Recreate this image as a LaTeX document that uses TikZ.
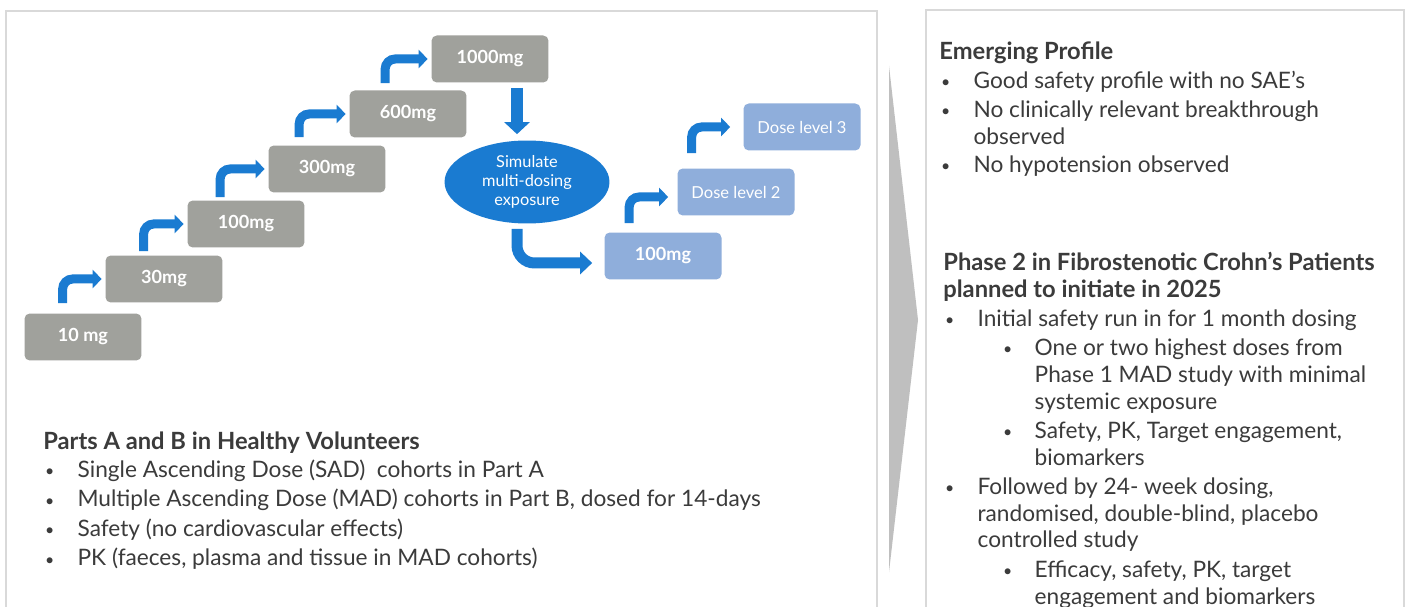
\documentclass[tikz,border=0pt]{standalone}
\usepackage{fontspec}
\setmainfont{Lato}
\usepackage{tikz}
\usetikzlibrary{
    calc,
    positioning,
    shapes.geometric,
    arrows.meta
}
\definecolor{dosegray}{HTML}{A0A19C}
\definecolor{arrowblue}{HTML}{1A7BD1}
\definecolor{doseblue}{HTML}{8FAEDB}
\definecolor{panelline}{HTML}{D9D9D9}
\definecolor{wedgegray}{HTML}{BFBFBF}
\definecolor{textgray}{HTML}{3B3B3B}
\newcommand{\Dot}{\raisebox{0.5pt}{\scalebox{0.7}{\textbullet}}}
\newcommand{\BulA}{\makebox[19.5pt][l]{\hspace{1pt}\Dot}}
\newcommand{\ContA}{\makebox[19.5pt]{}}
\newcommand{\BulB}{\makebox[33pt]{}\makebox[19pt][l]{\hspace{1pt}\Dot}}
\newcommand{\ContB}{\makebox[52pt]{}}
\newcommand{\TitleFont}{\bfseries\fontsize{13.5}{15.3}\selectfont}
\tikzset{
  dosebox/.style={rounded corners=3pt, fill=dosegray, text=white,
    minimum width=2.34cm, minimum height=0.94cm, inner sep=0pt,
    font=\bfseries\fontsize{10.3}{12}\selectfont},
  levelbox/.style={dosebox, fill=doseblue},
  stepup/.style={arrowblue, line width=0.18cm, rounded corners=0.2cm,
    -{Triangle[length=0.18cm,width=0.36cm]}},
  bodytext/.style={inner sep=0pt, anchor=north west, align=left,
    text=textgray, font=\fontsize{12.9}{15.3}\selectfont}
}

\begin{document}
\begin{tikzpicture}[x=0.02cm,y=-0.02cm]
\useasboundingbox (0,0) rectangle (1408,607);
\clip (0,0) rectangle (1408,607);
\fill[white] (0,0) rectangle (1408,607);

% panels
\draw[panelline, line width=1pt] (6,11) rectangle (877,640);
\draw[panelline, line width=1pt] (926,10) rectangle (1404,640);
\fill[wedgegray] (889,66) -- (918,320) -- (889,572) -- cycle;

% single ascending doses
\node[dosebox] (d10) at (83,337) {10 mg};
\node[dosebox] (d30) at (164,279) {30mg};
\node[dosebox] (d100) at (246,224) {100mg};
\node[dosebox] (d300) at (327,169) {300mg};
\node[dosebox] (d600) at (408,114) {600mg};
\node[dosebox] (d1000) at (490,59) {1000mg};

\draw[stepup] ([xshift=0.77cm,yshift=0.2cm]d10.north west) |- ([xshift=-2pt]d30.west);
\draw[stepup] ([xshift=0.77cm,yshift=0.08cm]d30.north west) |- ([xshift=-2pt]d100.west);
\draw[stepup] ([xshift=0.66cm,yshift=0.06cm]d100.north west) |- ([xshift=-2pt]d300.west);
\draw[stepup] ([xshift=0.62cm,yshift=0.16cm]d300.north west) |- ([xshift=-2pt]d600.west);
\draw[stepup] ([xshift=0.72cm,yshift=0.14cm]d600.north west) |- ([xshift=-2pt]d1000.west);

% simulation
\node[ellipse, fill=arrowblue, text=white, minimum width=3.3cm, minimum height=1.66cm,
  inner sep=0pt, align=center, font=\fontsize{9.3}{10.8}\selectfont] (sim) at (527,182)
  {Simulate\\multi-dosing\\exposure};
\draw[arrowblue, line width=0.24cm, -{Triangle[length=0.24cm,width=0.5cm]}]
  ([xshift=-0.2cm,yshift=-0.1cm]d1000.south -| sim.north) -- ([xshift=-0.2cm,yshift=0.12cm]sim.north);

% multiple ascending doses
\node[levelbox] (m100) at (663,256) {100mg};
\node[levelbox, font=\fontsize{9.4}{11}\selectfont] (lvl2) at (736,192) {Dose level 2};
\node[levelbox, font=\fontsize{9.4}{11}\selectfont] (lvl3) at (802,127) {Dose level 3};

\draw[arrowblue, line width=0.22cm, rounded corners=0.35cm, -{Triangle[length=0.24cm,width=0.44cm]}]
  ([xshift=-0.2cm,yshift=-0.1cm]sim.south) |- ([xshift=-0.24cm,yshift=-0.14cm]m100.west);
\draw[stepup] ([xshift=0.5cm,yshift=0.18cm]m100.north west) |- ([xshift=-0.18cm,yshift=-0.1cm]lvl2.west);
\draw[stepup] ([xshift=0.29cm,yshift=0.3cm]lvl2.north west) |- ([xshift=-0.26cm]lvl3.west);

% healthy volunteers
\node[bodytext] (partsab) at (43,432) {%
  {\TitleFont Parts A and B in Healthy Volunteers}\\[0.3pt]
  \BulA Single Ascending Dose (SAD)\ \ cohorts in Part A\\[1.5pt]
  \BulA Multiple Ascending Dose (MAD) cohorts in Part B, dosed for 14-days\\[1.5pt]
  \BulA Safety (no cardiovascular effects)\\[1.5pt]
  \BulA PK (faeces, plasma and tissue in MAD cohorts)};

% outcome
\node[bodytext] (profile) at (939,41) {%
  {\TitleFont Emerging Profile}\\[1.2pt]
  \BulA Good safety profile with no SAE’s\\[1.6pt]
  \BulA No clinically relevant breakthrough\\
  \ContA observed\\[0.6pt]
  \BulA No hypotension observed};

\node[bodytext] (phase2) at (943,252) {%
  {\TitleFont Phase 2 in Fibrostenotic Crohn’s Patients}\\
  {\TitleFont planned to initiate in 2025}\\[1.2pt]
  \BulA Initial safety run in for 1 month dosing\\[1.2pt]
  \BulB One or two highest doses from\\
  \ContB Phase 1 MAD study with minimal\\
  \ContB systemic exposure\\[1.2pt]
  \BulB Safety, PK, Target engagement,\\
  \ContB biomarkers\\[1.2pt]
  \BulA Followed by 24- week dosing,\\
  \ContA randomised, double-blind, placebo\\
  \ContA controlled study\\[1.4pt]
  \BulB Efficacy, safety, PK, target\\
  \ContB engagement and biomarkers};
\end{tikzpicture}
\end{document}
